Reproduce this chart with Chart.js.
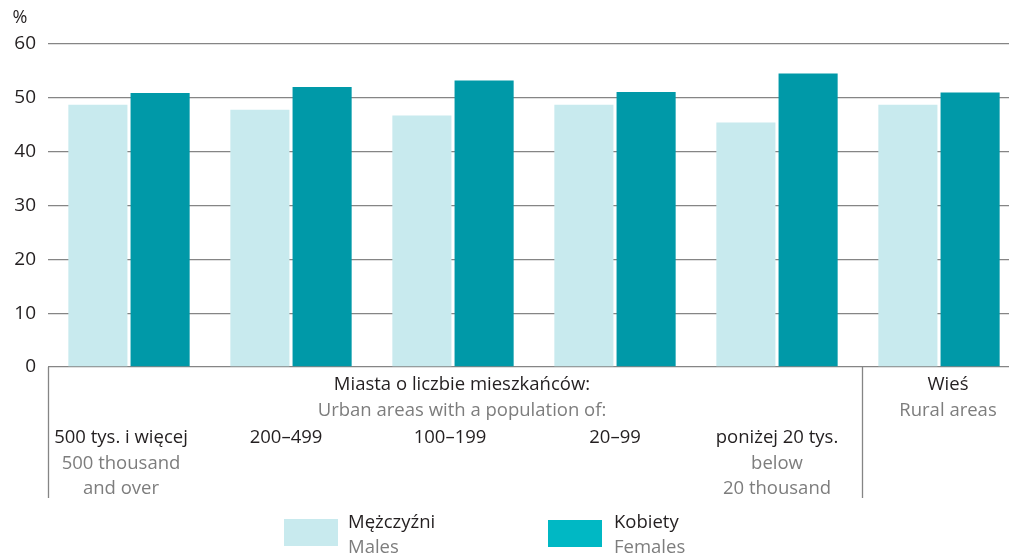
<!DOCTYPE html>
<html>
<head>
<meta charset="utf-8">
<script src="https://cdn.jsdelivr.net/npm/chart.js@4"></script>
<style>
  html, body { margin: 0; padding: 0; background: #fff; overflow: hidden; }
  #wrap { position: relative; width: 1020px; height: 556px; }
</style>
</head>
<body>
<div id="wrap"><canvas id="chart" width="1020" height="556"></canvas></div>
<script>
// kategorie (PL / EN)
const categoriesPl = ['500 tys. i więcej', '200–499', '100–199', '20–99', 'poniżej 20 tys.', 'Wieś'];
const categoriesEn = [['500 thousand', 'and over'], [], [], [], ['below', '20 thousand'], []];
const males = [48.7, 47.8, 46.7, 48.7, 45.4, 48.7];
const females = [50.9, 52.0, 53.2, 51.1, 54.5, 51.0];
const yTicks = [0, 10, 20, 30, 40, 50, 60];

const colMale = '#c8eaee';
const colFemale = '#0099a8';
const colFemaleLegend = '#00b8c4';
const dark = '#231f20';
const grey = '#7d7d7d';
const lineGrey = '#858585';
const font = '"Open Sans", sans-serif';
const labelShift = [-8, -5, -3, 0, 0]; // lekkie przesunięcie podpisów jak w oryginale

// rysuje podpisy osi, linie i legendę
const labelsPlugin = {
  id: 'labelsPlugin',
  afterDraw(chart) {
    const ctx = chart.ctx;
    const x = chart.scales.x;
    const y = chart.scales.y;
    const area = chart.chartArea;
    const zeroY = y.getPixelForValue(0);
    ctx.save();

    // linie pionowe pod osią
    ctx.strokeStyle = lineGrey;
    ctx.lineWidth = 1.3;
    const divX = (x.getPixelForValue(4) + x.getPixelForValue(5)) / 2 + 4;
    ctx.beginPath();
    ctx.moveTo(area.left + 0.5, zeroY);
    ctx.lineTo(area.left + 0.5, 498);
    ctx.moveTo(Math.round(divX) + 0.5, zeroY);
    ctx.lineTo(Math.round(divX) + 0.5, 498);
    ctx.stroke();

    ctx.textAlign = 'center';
    ctx.textBaseline = 'middle';
    ctx.font = '18.5px ' + font;

    // nagłówek grupy miast
    ctx.fillStyle = dark;
    ctx.fillText('Miasta o liczbie mieszkańców:', 462, 385);
    ctx.fillStyle = grey;
    ctx.fillText('Urban areas with a population of:', 462, 411);

    // wieś
    const wx = x.getPixelForValue(5) + 9;
    ctx.fillStyle = dark;
    ctx.fillText(categoriesPl[5], wx, 385);
    ctx.fillStyle = grey;
    ctx.fillText('Rural areas', wx, 411);

    // kategorie miast
    for (let i = 0; i < 5; i++) {
      const cx = x.getPixelForValue(i) + labelShift[i];
      ctx.fillStyle = dark;
      ctx.fillText(categoriesPl[i], cx, 438);
      ctx.fillStyle = grey;
      categoriesEn[i].forEach((t, j) => ctx.fillText(t, cx, 464 + j * 25));
    }

    // "%"
    ctx.fillStyle = dark;
    ctx.font = '18px ' + font;
    ctx.fillText('%', 20, 18);

    // legenda
    ctx.font = '18.5px ' + font;
    ctx.textAlign = 'left';
    ctx.fillStyle = colMale;
    ctx.fillRect(284, 519, 54, 27);
    ctx.fillStyle = dark;
    ctx.fillText('Mężczyźni', 348, 523);
    ctx.fillStyle = grey;
    ctx.fillText('Males', 348, 548);

    ctx.fillStyle = colFemaleLegend;
    ctx.fillRect(548, 520, 54, 27);
    ctx.fillStyle = dark;
    ctx.fillText('Kobiety', 614, 523);
    ctx.fillStyle = grey;
    ctx.fillText('Females', 614, 548);

    ctx.restore();
  }
};

const ctx = document.getElementById('chart');
new Chart(ctx, {
  type: 'bar',
  data: {
    labels: categoriesPl,
    datasets: [
      { label: 'Mężczyźni', data: males, backgroundColor: colMale, categoryPercentage: 0.768, barPercentage: 0.95 },
      { label: 'Kobiety', data: females, backgroundColor: colFemale, categoryPercentage: 0.768, barPercentage: 0.95 }
    ]
  },
  options: {
    responsive: false,
    animation: false,
    devicePixelRatio: 1,
    layout: { padding: { top: 44, right: 0, left: 0, bottom: 0 } },
    plugins: { legend: { display: false }, tooltip: { enabled: false } },
    scales: {
      x: {
        grid: { display: false },
        border: { display: false },
        ticks: { display: false },
        afterFit: s => { s.height = 189; }
      },
      y: {
        min: 0,
        max: 60,
        afterBuildTicks: s => { s.ticks = yTicks.map(v => ({ value: v })); },
        grid: { color: lineGrey, lineWidth: 1.3, drawTicks: false },
        border: { display: false },
        ticks: { color: dark, padding: 12, font: { family: 'Open Sans', size: 19 } },
        afterFit: s => { s.width = 48; }
      }
    }
  },
  plugins: [labelsPlugin]
});
</script>
</body>
</html>
